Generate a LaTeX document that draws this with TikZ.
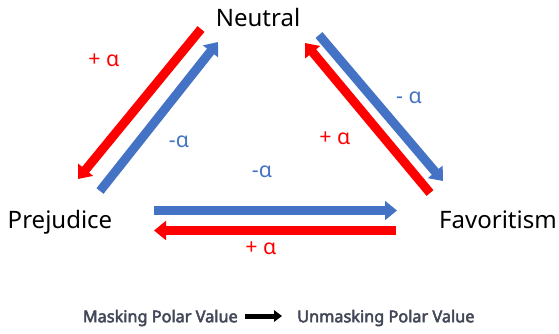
\documentclass[tikz,border=0pt]{standalone}
\usepackage{fontspec}
\setmainfont{Noto Sans}
\newfontfamily\legendfont{Noto Sans}[FakeBold=3]
\usetikzlibrary{arrows.meta, positioning}
\definecolor{polarRed}{HTML}{FF0000}
\definecolor{polarBlue}{HTML}{4472C4}
\definecolor{legendGray}{HTML}{434858}

\begin{document}
\begin{tikzpicture}[x=0.75pt, y=-0.75pt,
    state/.style={font=\fontsize{18}{22}\selectfont, anchor=base, inner sep=0pt},
    posArrow/.style={draw=polarRed, line width=6.75pt,
                     -{Triangle[length=9pt, width=14pt]}},
    negArrow/.style={draw=polarBlue, line width=6.75pt,
                     -{Triangle[length=9pt, width=14pt]}},
    posLabel/.style={text=polarRed, font=\fontsize{16}{19}\selectfont, inner sep=0pt},
    negLabel/.style={text=polarBlue, font=\fontsize{16}{19}\selectfont, inner sep=0pt},
    legend/.style={text=legendGray, font=\legendfont\fontsize{12.2}{14}\selectfont,
                   inner sep=0pt},
  ]
    \useasboundingbox (0,0) rectangle (559,333);

    % States
    \node[state] (neutral) at (258,26) {Neutral};
    \node[state] (prejudice) at (60,228) {Prejudice};
    \node[state] (favoritism) at (498,228) {Favoritism};

    % Neutral -- Prejudice
    \coordinate (npRedA) at (201,29);
    \coordinate (npRedB) at (78,179);
    \coordinate (npBlueA) at (100,191);
    \coordinate (npBlueB) at (218,42);
    \draw[posArrow] (npRedA) -- (npRedB);
    \draw[negArrow] (npBlueA) -- (npBlueB);
    \node[posLabel] (npPos) at (104,60) {+ α};
    \node[negLabel] (npNeg) at (179,142) {-α};

    % Neutral -- Favoritism
    \coordinate (nfBlueA) at (319,35);
    \coordinate (nfBlueB) at (443,181);
    \coordinate (nfRedA) at (430,193);
    \coordinate (nfRedB) at (305,43);
    \draw[negArrow] (nfBlueA) -- (nfBlueB);
    \draw[posArrow] (nfRedA) -- (nfRedB);
    \node[negLabel] (nfNeg) at (409,98) {- α};
    \node[posLabel] (nfPos) at (335,138) {+ α};

    % Prejudice -- Favoritism
    \coordinate (pfBlueA) at (154,210.5);
    \coordinate (pfBlueB) at (397,210.5);
    \coordinate (pfRedA) at (396,230.5);
    \coordinate (pfRedB) at (154,230.5);
    \draw[negArrow] (pfBlueA) -- (pfBlueB);
    \draw[posArrow] (pfRedA) -- (pfRedB);
    \node[negLabel] (pfNeg) at (262,172) {-α};
    \node[posLabel] (pfPos) at (261,248) {+ α};

    % Legend
    \node[legend, anchor=east] (masking) at (238,318) {Masking Polar Value};
    \node[legend, anchor=west] (unmasking) at (297,318) {Unmasking Polar Value};
    \draw[line width=3.75pt, -{Triangle[length=6pt, width=8.5pt]}]
      ([xshift=5.25pt, yshift=1.5pt]masking.east) -- ([xshift=-11.25pt, yshift=1.5pt]unmasking.west);
\end{tikzpicture}
\end{document}
